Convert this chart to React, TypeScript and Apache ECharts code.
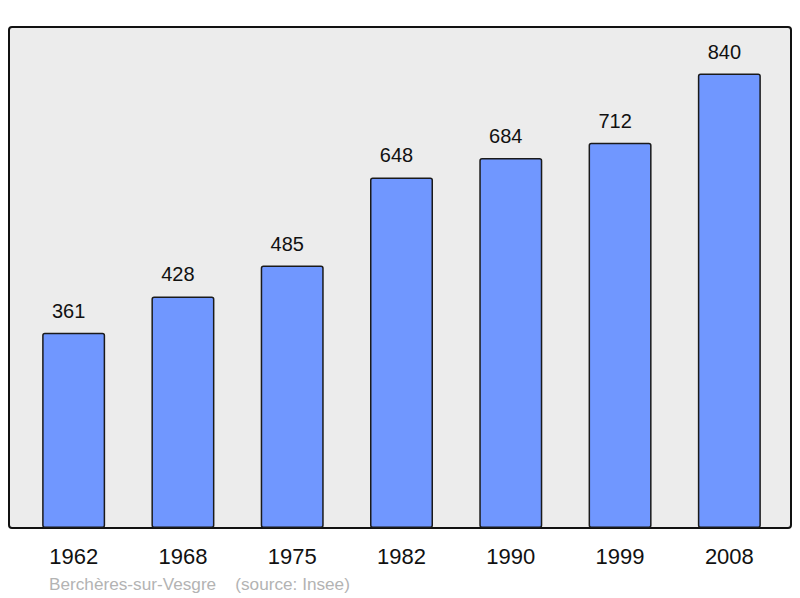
import React, { useEffect, useRef } from "react";
import * as echarts from "echarts";

const years = ["1962", "1968", "1975", "1982", "1990", "1999", "2008"];
const population = [361, 428, 485, 648, 684, 712, 840];
const footer = "Berchères-sur-Vesgre    (source: Insee)";

export default function App() {
  const ref = useRef<HTMLDivElement>(null);
  useEffect(() => {
    if (!ref.current) return;
    const chart = echarts.init(ref.current, null, { renderer: "svg" });
    chart.setOption({
      animation: false,
      textStyle: { fontFamily: "Liberation Sans" },
      graphic: [
        {
          type: "rect",
          z: -10,
          shape: { x: 9, y: 27, width: 782, height: 501, r: 3 },
          style: { fill: "#ececec", stroke: "#111", lineWidth: 2 },
        },
        {
          type: "text",
          x: 49,
          y: 584,
          style: {
            text: footer,
            fill: "#b3b3b3",
            font: "17.2px 'Liberation Sans'",
            verticalAlign: "middle",
          },
        },
      ],
      grid: { left: 19, right: 16, top: 27, bottom: 70 },
      xAxis: {
        type: "category",
        data: years,
        axisLine: { show: false },
        axisTick: { show: false },
        axisLabel: { color: "#111", fontSize: 22, margin: 17 },
      },
      yAxis: {
        type: "value",
        min: 0,
        max: 926,
        show: false,
        splitLine: { show: false },
      },
      series: [
        {
          type: "bar",
          data: population,
          barWidth: 63,
          itemStyle: {
            color: "#7097ff",
            borderColor: "#1a1a1a",
            borderWidth: 1.5,
            borderRadius: 2,
          },
          label: {
            show: true,
            position: "top",
            distance: 12,
            offset: [-5, 0],
            color: "#111",
            fontSize: 20,
          },
        },
      ],
    });
    return () => chart.dispose();
  }, []);
  return <div ref={ref} style={{ width: 800, height: 598, position: "absolute", left: 0, top: 0 }} />;
}
